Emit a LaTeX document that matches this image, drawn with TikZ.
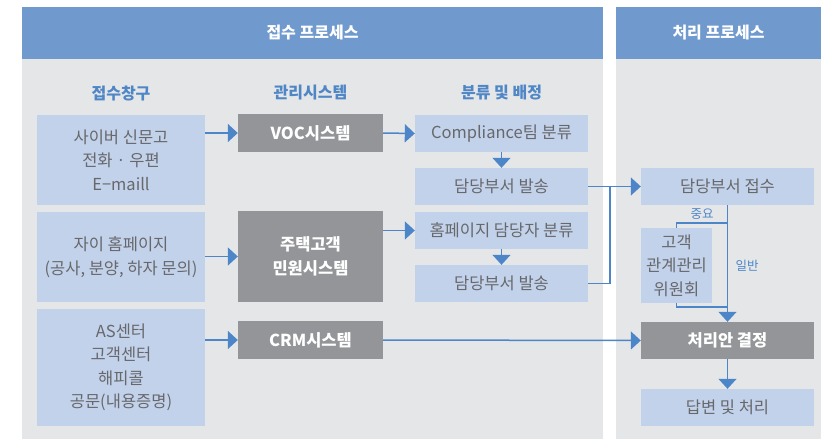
\documentclass[tikz,border=0pt]{standalone}
\usepackage{fontspec}
\setmainfont{Noto Sans CJK KR}
\usetikzlibrary{arrows.meta}
\definecolor{hdr}{HTML}{7099CE}
\definecolor{panel}{HTML}{E5E6E8}
\definecolor{lbox}{HTML}{C3D2EB}
\definecolor{gbox}{HTML}{939598}
\definecolor{txt}{HTML}{67686B}
\definecolor{blu}{HTML}{4D86C8}
\definecolor{btxt}{HTML}{4F86C6}
\tikzset{
  lbl/.style={fill=lbox, draw=none, text=txt, align=center, inner sep=0pt, font=\fontsize{16.5}{23.5}\selectfont},
  gbl/.style={fill=gbox, draw=none, text=white, align=center, inner sep=0pt, font=\fontsize{16.5}{24}\selectfont\bfseries},
  colhead/.style={text=btxt, font=\fontsize{16}{18}\selectfont\bfseries},
  barhead/.style={text=white, font=\fontsize{16}{18}\selectfont\bfseries},
  conn/.style={draw=blu, line width=1.5pt},
  arr/.style={conn, -{Triangle[length=10pt,width=18pt]}},
  small/.style={text=blu, font=\fontsize{12.5}{14}\selectfont}
}
\begin{document}
\begin{tikzpicture}[x=1pt,y=-1pt]
\useasboundingbox (0,0) rectangle (821,439);
% panels
\fill[panel] (22,59) rectangle (603,439);
\fill[hdr] (22,7) rectangle (603,59);
\fill[panel] (616,59) rectangle (821,439);
\fill[hdr] (616,7) rectangle (821,59);
\node[barhead] (h1) at (312.5,33) {접수 프로세스};
\node[barhead] (h2) at (718.5,33) {처리 프로세스};
\node[colhead] (c1) at (121,93) {접수창구};
\node[colhead] (c2) at (310.5,93) {관리시스템};
\node[colhead] (c3) at (501.5,93) {분류 및 배정};
% left column
\node[lbl, minimum width=168pt, minimum height=90pt] (b1) at (121,160) {사이버 신문고\\전화 · 우편\\E−maill};
\node[lbl, minimum width=168pt, minimum height=90pt] (b2) at (121,257) {자이 홈페이지\\(공사, 분양, 하자 문의)};
\node[lbl, minimum width=168pt, minimum height=117pt] (b3) at (121,367.5) {AS센터\\고객센터\\해피콜\\공문(내용증명)};
% gray systems
\node[gbl, minimum width=145pt, minimum height=38pt] (voc) at (310.5,133) {VOC시스템};
\node[gbl, minimum width=145pt, minimum height=91pt] (ju) at (310.5,256.5) {주택고객\\민원시스템};
\node[gbl, minimum width=145pt, minimum height=38pt] (crm) at (310.5,340) {CRM시스템};
% classification
\node[lbl, minimum width=173pt, minimum height=37pt] (comp) at (501.5,133.5) {Compliance팀 분류};
\node[lbl, minimum width=173pt, minimum height=37pt] (send1) at (501.5,186.5) {담당부서 발송};
\node[lbl, minimum width=173pt, minimum height=37pt] (home) at (501.5,230.5) {홈페이지 담당자 분류};
\node[lbl, minimum width=173pt, minimum height=37pt] (send2) at (501.5,283.5) {담당부서 발송};
% processing
\node[lbl, minimum width=173pt, minimum height=37pt] (recv) at (727.5,186.5) {담당부서 접수};
\node[lbl, minimum width=71pt, minimum height=75pt] (comm) at (676.5,265.5) {고객\\관계관리\\위원회};
\node[gbl, minimum width=173pt, minimum height=37pt] (dec) at (727.5,340.5) {처리안 결정};
\node[lbl, minimum width=173pt, minimum height=37pt] (ans) at (727.5,407.5) {답변 및 처리};
% connectors
\draw[arr] (b1.east |- voc.west) -- (voc.west);
\draw[arr] (b2.east |- ju.west) -- (ju.west);
\draw[arr] (b3.east |- crm.west) -- (crm.west);
\draw[arr] (voc.east) -- (comp.west);
\draw[arr] (ju.east |- home.west) -- (home.west);
\draw[arr] (comp.south) -- (send1.north);
\draw[arr] (home.south) -- (send2.north);
\draw[arr] (send1.east) -- (recv.west);
\coordinate (j) at (610,186.5);
\draw[conn] (send2.east) -| (j);
\draw[arr] (crm.east) -- (dec.west);
\draw[arr] (recv.south) -- (dec.north);
\coordinate (bt) at (727.5,223);
\coordinate (bb) at (727.5,307);
\draw[conn] (bt) -| (comm.north);
\draw[conn] (comm.south) |- (bb);
\draw[arr] (dec.south) -- (ans.north);
\node[small] (l1) at (702,214) {중요};
\node[small] (l2) at (747,266) {일반};
\end{tikzpicture}
\end{document}
